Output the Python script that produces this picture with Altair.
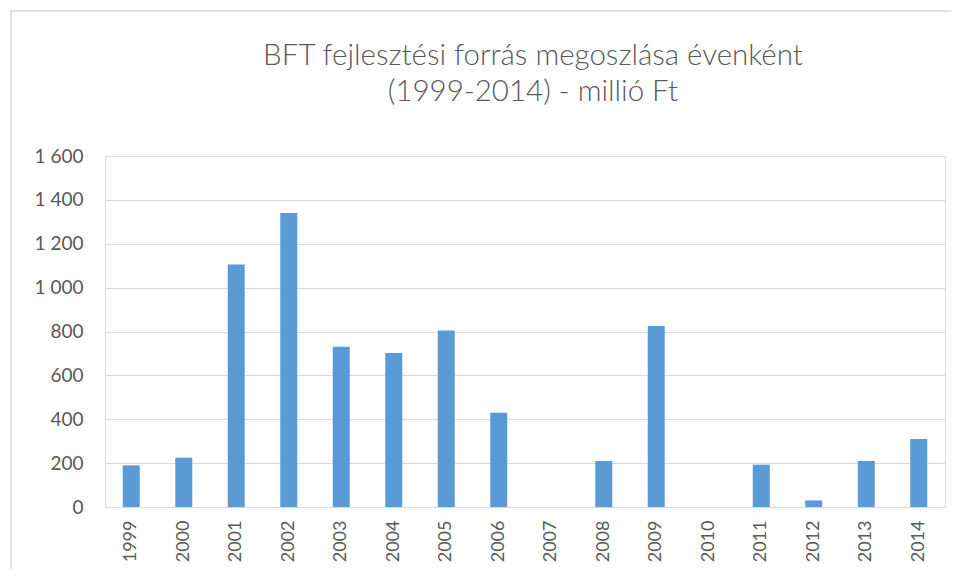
import altair as alt
import pandas as pd

years = [str(y) for y in range(1999, 2015)]
values = [190, 225, 1105, 1340, 730, 702, 805, 430, 0, 210, 825, 0, 193, 30, 210, 310]
title_lines = ["BFT fejlesztési forrás megoszlása évenként", "(1999-2014) - millió Ft"]

df = pd.DataFrame({"ev": years, "ertek": values})

W, H = 840, 351

bars = alt.Chart(df).mark_bar(size=17, color="#5B9BD5").encode(
    x=alt.X("ev:N", sort=years, title=None,
            scale=alt.Scale(paddingInner=0, paddingOuter=0),
            axis=alt.Axis(labelAngle=270, labelFont="Lato", labelFontSize=18,
                          labelColor="#595959", labelPadding=13, ticks=False,
                          domainColor="#d9d9d9", domainWidth=1, grid=False)),
    y=alt.Y("ertek:Q", title=None,
            scale=alt.Scale(domain=[0, 1600], nice=False),
            axis=alt.Axis(values=list(range(0, 1601, 200)), labelFont="Lato",
                          labelFontSize=19, labelColor="#595959", labelPadding=22,
                          ticks=False, domain=False, gridColor="#d9d9d9",
                          labelExpr="replace(format(datum.value, ','), ',', ' ')")),
)

frame = alt.Chart(pd.DataFrame({"k": [0]})).mark_rect(
    fill=None, stroke="#d9d9d9", strokeWidth=1.5, clip=False
).encode(
    x=alt.value(-94), x2=alt.value(W + 60),
    y=alt.value(-145), y2=alt.value(H + 120),
)

title_layers = []
for line, yb in zip(title_lines, [-91, -55]):
    title_layers.append(
        alt.Chart(pd.DataFrame({"t": [line]})).mark_text(
            font="Lato", fontSize=29.5, fontWeight=300, color="#595959",
            align="center", baseline="alphabetic", clip=False
        ).encode(text="t:N", x=alt.value(W / 2 + 8), y=alt.value(yb))
    )

chart = alt.layer(frame, *title_layers, bars).properties(
    width=W, height=H,
    autosize=alt.AutoSizeParams(type="none"),
    padding={"left": 97, "top": 148, "right": 6, "bottom": 62},
).configure_view(stroke=None).configure(background="white")

chart.save("out.html", embed_options={"renderer": "svg", "actions": False})
